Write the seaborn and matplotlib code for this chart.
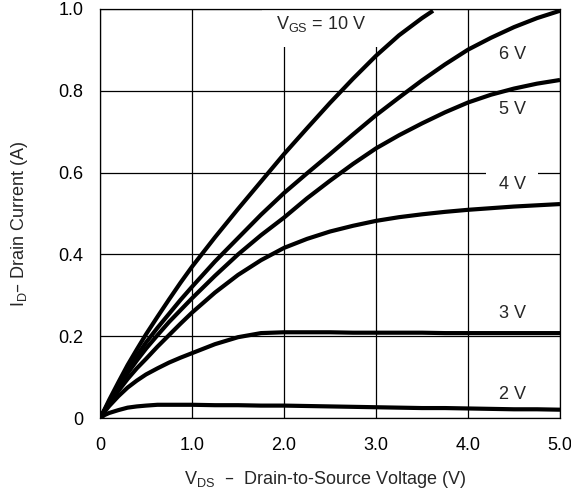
import pandas as pd
import numpy as np
import matplotlib
matplotlib.use("Agg")
import matplotlib.pyplot as plt
import seaborn as sns

# drain-source voltage sample points (V)
vds = [0, 0.05, 0.1, 0.2, 0.3, 0.4, 0.5, 0.625, 0.75, 0.875, 1.0, 1.25, 1.5, 1.75,
       2.0, 2.25, 2.5, 2.75, 3.0, 3.25, 3.5, 3.75, 4.0, 4.25, 4.5, 4.75, 5.0]
vds_10 = [0, 0.05, 0.1, 0.2, 0.3, 0.4, 0.5, 0.625, 0.75, 0.875, 1.0, 1.25, 1.5, 1.75,
          2.0, 2.25, 2.5, 2.75, 3.0, 3.25, 3.5, 3.62]

# drain current (A) per gate voltage
id_10v = [0, 0.022, 0.045, 0.088, 0.13, 0.168, 0.205, 0.248, 0.29, 0.331, 0.37, 0.442,
          0.511, 0.578, 0.645, 0.708, 0.77, 0.829, 0.885, 0.935, 0.977, 0.995]
id_6v = [0, 0.02, 0.04, 0.08, 0.118, 0.152, 0.185, 0.221, 0.255, 0.289, 0.321, 0.383,
         0.44, 0.497, 0.55, 0.598, 0.645, 0.693, 0.74, 0.783, 0.825, 0.864, 0.9, 0.929,
         0.955, 0.977, 0.995]
id_5v = [0, 0.019, 0.038, 0.075, 0.11, 0.141, 0.17, 0.203, 0.235, 0.264, 0.293, 0.348,
         0.40, 0.447, 0.49, 0.537, 0.58, 0.621, 0.659, 0.691, 0.72, 0.747, 0.771, 0.79,
         0.805, 0.817, 0.826]
id_4v = [0, 0.018, 0.035, 0.067, 0.096, 0.122, 0.145, 0.175, 0.203, 0.231, 0.258, 0.307,
         0.35, 0.386, 0.416, 0.438, 0.456, 0.47, 0.482, 0.491, 0.498, 0.504, 0.509, 0.513,
         0.517, 0.52, 0.523]
id_3v = [0, 0.016, 0.03, 0.054, 0.075, 0.092, 0.107, 0.122, 0.136, 0.148, 0.159, 0.181,
         0.198, 0.208, 0.21, 0.21, 0.21, 0.209, 0.209, 0.209, 0.209, 0.208, 0.208, 0.208,
         0.208, 0.208, 0.208]
id_2v = [0, 0.008, 0.013, 0.02, 0.026, 0.029, 0.031, 0.033, 0.033, 0.033, 0.033, 0.032,
         0.032, 0.031, 0.031, 0.03, 0.029, 0.028, 0.027, 0.026, 0.025, 0.025, 0.024, 0.023,
         0.022, 0.022, 0.021]

curve_names = ["10 V", "6 V", "5 V", "4 V", "3 V", "2 V"]
label_text = [r"V$_{GS}$ = 10 V", "6 V", "5 V", "4 V", "3 V", "2 V"]
label_x = [1.91, 4.48, 4.48, 4.48, 4.48, 4.48]
label_y = [0.963, 0.887, 0.753, 0.572, 0.257, 0.057]

xticks = [0, 1, 2, 3, 4, 5]
xtick_labels = ["0", "1.0", "2.0", "3.0", "4.0", "5.0"]
yticks = [0, 0.2, 0.4, 0.6, 0.8, 1.0]
ytick_labels = ["0", "0.2", "0.4", "0.6", "0.8", "1.0"]

frames = []
for name, xs, ys in zip(curve_names,
                        [vds_10, vds, vds, vds, vds, vds],
                        [id_10v, id_6v, id_5v, id_4v, id_3v, id_2v]):
    frames.append(pd.DataFrame({"vds": xs, "id": ys, "vgs": name}))
df = pd.concat(frames, ignore_index=True)

sns.set_style("white")
plt.rcParams["font.family"] = ["Liberation Sans", "DejaVu Sans"]
plt.rcParams["mathtext.default"] = "regular"

fig, ax = plt.subplots(figsize=(5.71, 4.95), dpi=100)
fig.subplots_adjust(left=100 / 571, right=560 / 571, bottom=1 - 418.3 / 495, top=1 - 8.7 / 495)

sns.lineplot(data=df, x="vds", y="id", hue="vgs", palette=["black"] * 6,
             estimator=None, sort=False, legend=False, linewidth=3, ax=ax, zorder=4,
             solid_joinstyle="round", solid_capstyle="butt")

ax.set_xlim(0, 5)
ax.set_ylim(0, 1)
ax.set_xticks(xticks)
ax.set_xticklabels(xtick_labels)
ax.set_yticks(yticks)
ax.set_yticklabels(ytick_labels)
ax.tick_params(axis="both", length=0, labelsize=13, colors="black")
ax.tick_params(axis="x", pad=13.5)
ax.tick_params(axis="y", pad=12)

ax.set_axisbelow(True)
ax.grid(True, color="black", linewidth=0.9)
for sp in ax.spines.values():
    sp.set_color("black")
    sp.set_linewidth(0.9)
    sp.set_zorder(5)

ax.set_xlabel(r"V$_{DS}$  –  Drain-to-Source Voltage (V)", fontsize=13)
ax.set_ylabel(r"I$_D$– Drain Current (A)", fontsize=13)
ax.xaxis.set_label_coords(0.49, -0.125)
ax.yaxis.set_label_coords(-0.152, 0.475)

for i, (t, lx, ly) in enumerate(zip(label_text, label_x, label_y)):
    if i == 0:
        ax.text(lx, ly, t, fontsize=13, ha="left", va="center", zorder=3,
                bbox=dict(boxstyle="square,pad=0.75", fc="white", ec="none"))
    elif t == "4 V":
        ax.text(lx, ly, t, fontsize=13, ha="center", va="center", zorder=3,
                bbox=dict(boxstyle="square,pad=0.7", fc="white", ec="none"))
    else:
        ax.text(lx, ly, t, fontsize=13, ha="center", va="center", zorder=3)

fig.savefig("out.png", dpi=100)
